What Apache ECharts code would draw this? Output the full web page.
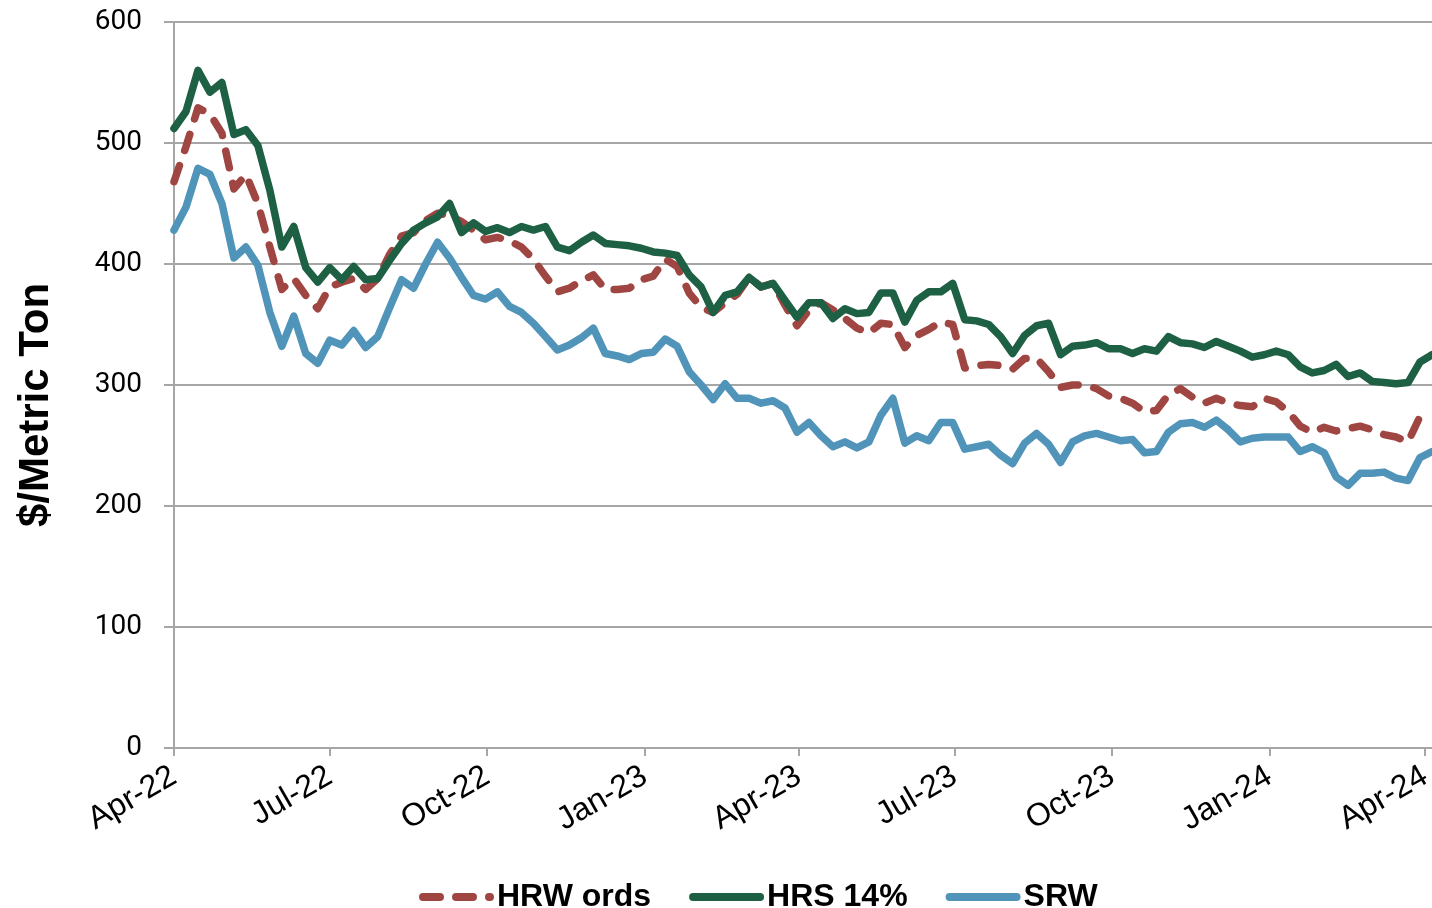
<!DOCTYPE html>
<html>
<head>
<meta charset="utf-8">
<script src="https://cdn.jsdelivr.net/npm/echarts@6/dist/echarts.min.js"></script>
<style>
  html, body { margin: 0; padding: 0; background: #ffffff; }
  #chart { width: 1432px; height: 908px; }
</style>
</head>
<body>
<div id="chart"></div>
<script>
// Weekly observations starting 1 Apr 2022 (106 weeks)
const startDate = [2022, 4, 1];
const weekCount = 106;

const hrwOrds = [468, 497, 529, 524, 508, 462, 474, 450, 414, 379, 388, 374, 363, 381, 385, 388, 379, 388, 408, 423,
  426, 436, 442, 440, 435, 428, 420, 422, 419, 414, 404, 390, 377, 380, 386, 391, 379, 379, 380, 387,
  390, 404, 398, 376, 364, 360, 368, 375, 389, 381, 384, 366, 349, 362, 368, 362, 355, 347, 343, 351,
  350, 331, 341, 346, 352, 350, 314, 316, 317, 316, 313, 322, 322, 311, 298, 300, 300, 297, 291, 289,
  285, 278, 279, 292, 297, 290, 285, 289, 285, 283, 282, 289, 286, 278, 266, 261, 265, 262, 264, 266,
  263, 259, 257, 253, 274, 275];

const hrs14 = [512, 526, 560, 542, 550, 507, 511, 498, 461, 414, 431, 397, 385, 397, 387, 398, 387, 388, 403, 417,
  428, 434, 439, 450, 426, 434, 427, 430, 426, 431, 428, 431, 414, 411, 418, 424, 417, 416, 415, 413,
  410, 409, 407, 391, 381, 360, 374, 377, 389, 381, 384, 370, 356, 368, 368, 355, 363, 359, 360, 376,
  376, 352, 370, 377, 377, 384, 354, 353, 350, 340, 326, 341, 349, 351, 325, 332, 333, 335, 330, 330,
  326, 330, 328, 340, 335, 334, 331, 336, 332, 328, 323, 325, 328, 325, 315, 310, 312, 317, 307, 310,
  303, 302, 301, 302, 319, 325];

const srw = [428, 447, 479, 474, 450, 405, 414, 399, 360, 332, 357, 326, 318, 337, 333, 345, 331, 340, 364, 387,
  380, 400, 418, 405, 389, 374, 371, 377, 365, 360, 351, 340, 329, 333, 339, 347, 326, 324, 321, 326,
  327, 338, 332, 311, 300, 288, 301, 289, 289, 285, 287, 281, 261, 269, 258, 249, 253, 248, 253, 275,
  289, 252, 258, 254, 269, 269, 247, 249, 251, 242, 235, 252, 260, 251, 236, 253, 258, 260, 257, 254,
  255, 244, 245, 261, 268, 269, 265, 271, 263, 253, 256, 257, 257, 257, 245, 249, 244, 224, 217, 227,
  227, 228, 223, 221, 240, 245];

const seriesNames = ['HRW ords', 'HRS 14%', 'SRW'];
const tickDates = [[2022, 4, 1], [2022, 7, 1], [2022, 10, 1], [2023, 1, 1], [2023, 4, 1],
  [2023, 7, 1], [2023, 10, 1], [2024, 1, 1], [2024, 4, 1]];
const monthNames = ['Jan', 'Feb', 'Mar', 'Apr', 'May', 'Jun', 'Jul', 'Aug', 'Sep', 'Oct', 'Nov', 'Dec'];

const DAY = 86400000;
function toUTC(ymd) { return Date.UTC(ymd[0], ymd[1] - 1, ymd[2]); }
const t0 = toUTC(startDate);
function dayOffset(ymd) { return Math.round((toUTC(ymd) - t0) / DAY); }
// x positions: days since start date
const days = [];
for (let i = 0; i < weekCount; i++) days.push(i * 7);
const tickDays = tickDates.map(dayOffset);

function pairs(vals) { return vals.map((v, i) => [days[i], v]); }
function dayLabel(v) {
  const d = new Date(t0 + Math.round(v) * DAY);
  return monthNames[d.getUTCMonth()] + '-' + String(d.getUTCFullYear()).slice(2);
}

const chart = echarts.init(document.getElementById('chart'), null, { renderer: 'canvas' });
const colors = ['#A04642', '#1E6044', '#5094BA'];

// legend icons: solid rounded bar, and dash-dash-dot bar
const solidIcon = 'path://M4,0H71A4,4,0,0,1,71,8H4A4,4,0,0,1,4,0Z';
const dashIcon = 'path://M4,0H21A4,4,0,0,1,21,8H4A4,4,0,0,1,4,0Z' +
  'M37,0H54A4,4,0,0,1,54,8H37A4,4,0,0,1,37,0Z' +
  'M70,0H71A4,4,0,0,1,71,8H70A4,4,0,0,1,70,0Z';

chart.setOption({
  animation: false,
  backgroundColor: '#ffffff',
  grid: { left: 174, right: 0, top: 22, bottom: 160, containLabel: false, outerBoundsMode: 'none' },
  legend: {
    data: [
      { name: seriesNames[0], icon: dashIcon },
      { name: seriesNames[1], icon: solidIcon },
      { name: seriesNames[2], icon: solidIcon }
    ],
    left: 419,
    top: 881,
    itemWidth: 75,
    itemHeight: 8,
    itemGap: 38,
    padding: 0,
    textStyle: {
      fontFamily: '"Liberation Sans", Arial, sans-serif',
      fontWeight: 'bold',
      fontSize: 32,
      color: '#000000',
      padding: [0, 0, 0, -2]
    }
  },
  xAxis: {
    type: 'value',
    min: 0,
    max: days[days.length - 1],
    axisLine: { show: true, onZero: false, lineStyle: { color: '#A6A6A6', width: 2 } },
    axisTick: { show: true, length: 8, lineStyle: { color: '#A6A6A6', width: 2 }, customValues: tickDays },
    splitLine: { show: false },
    axisLabel: {
      customValues: tickDays,
      rotate: 30,
      margin: 26,
      fontFamily: '"Liberation Sans", Arial, sans-serif',
      fontSize: 32,
      color: '#000000',
      formatter: dayLabel
    }
  },
  yAxis: {
    type: 'value',
    min: 0,
    max: 600,
    interval: 100,
    name: '$/Metric Ton',
    nameLocation: 'middle',
    nameRotate: 90,
    nameGap: 117,
    nameTextStyle: {
      fontFamily: '"Liberation Sans", Arial, sans-serif',
      fontWeight: 'bold',
      fontSize: 42,
      color: '#000000',
      padding: [0, 40, 0, 0]
    },
    axisLine: { show: true, lineStyle: { color: '#A6A6A6', width: 2 } },
    axisTick: { show: true, inside: false, length: 10, lineStyle: { color: '#A6A6A6', width: 2 } },
    splitLine: { show: true, lineStyle: { color: '#A6A6A6', width: 2 } },
    axisLabel: {
      margin: 32,
      fontFamily: 'Roboto, sans-serif',
      fontSize: 28,
      color: '#000000'
    }
  },
  series: [
    {
      name: seriesNames[0], type: 'line', data: pairs(hrwOrds), symbol: 'none', showSymbol: false,
      color: colors[0],
      lineStyle: { color: colors[0], width: 7.5, type: [17, 16], cap: 'round', join: 'round' }
    },
    {
      name: seriesNames[1], type: 'line', data: pairs(hrs14), symbol: 'none', showSymbol: false,
      color: colors[1],
      lineStyle: { color: colors[1], width: 7.5, cap: 'round', join: 'round' }
    },
    {
      name: seriesNames[2], type: 'line', data: pairs(srw), symbol: 'none', showSymbol: false,
      color: colors[2],
      lineStyle: { color: colors[2], width: 7.5, cap: 'round', join: 'round' }
    }
  ]
});
</script>
</body>
</html>
